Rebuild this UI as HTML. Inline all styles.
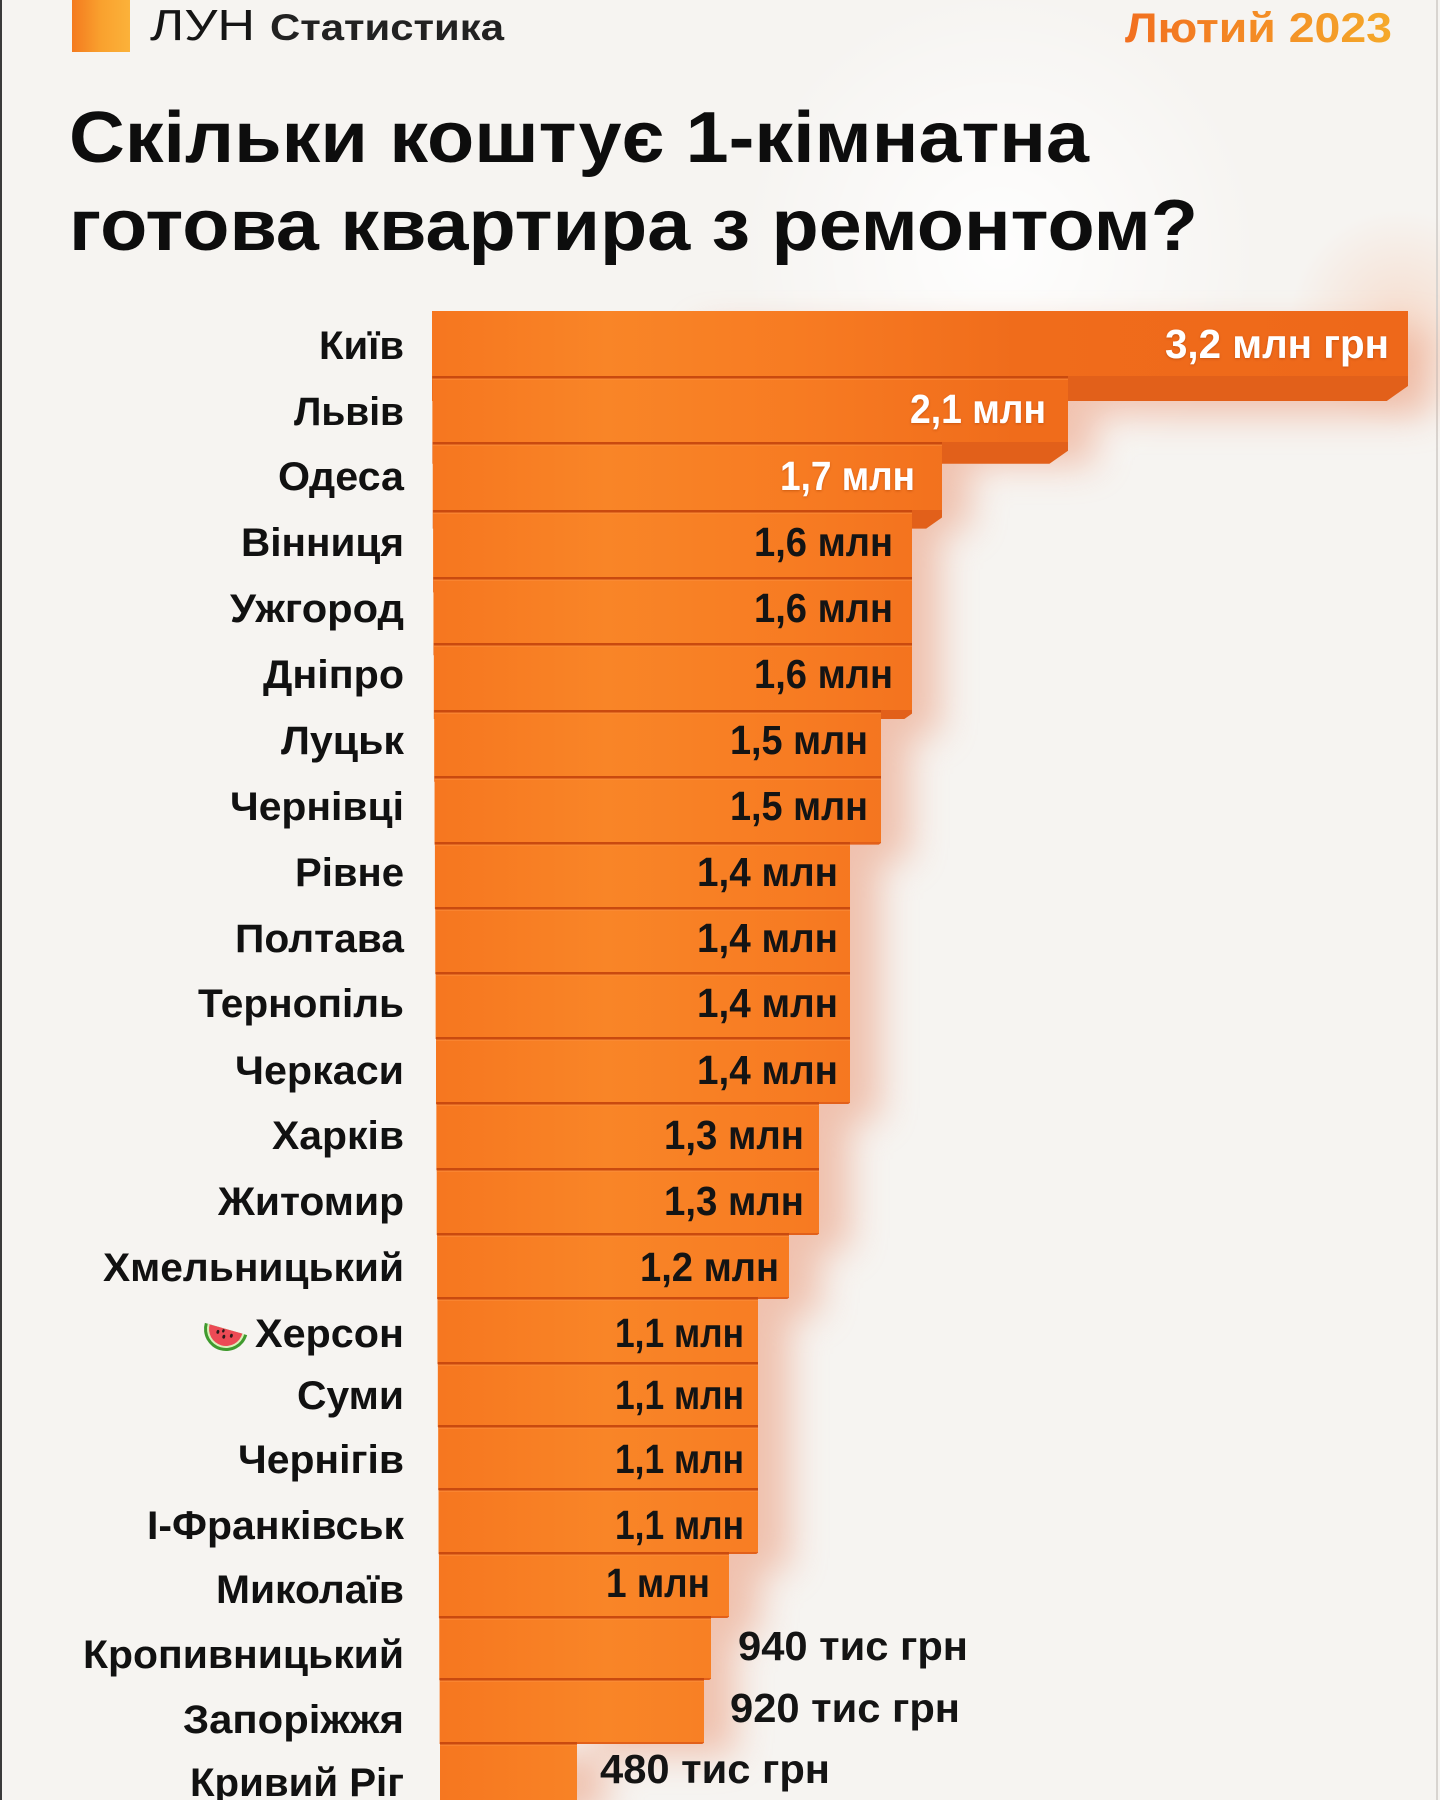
<!DOCTYPE html>
<html><head><meta charset="utf-8"><style>
html,body{margin:0;padding:0;background:#f6f4f1;}
svg{display:block;}
text{font-family:"Liberation Sans","DejaVu Sans",sans-serif;}
</style></head><body>
<svg width="1440" height="1800" viewBox="0 0 1440 1800" xmlns="http://www.w3.org/2000/svg">
<defs>
<linearGradient id="sq" x1="0" y1="0" x2="1" y2="0"><stop offset="0" stop-color="#f47a1f"/><stop offset="0.5" stop-color="#f9a12e"/><stop offset="1" stop-color="#fbb23a"/></linearGradient>
<linearGradient id="dt" x1="1125" y1="0" x2="1392" y2="0" gradientUnits="userSpaceOnUse"><stop offset="0" stop-color="#f26f1f"/><stop offset="1" stop-color="#f5a92a"/></linearGradient>
<linearGradient id="bar" x1="430" y1="0" x2="1410" y2="0" gradientUnits="userSpaceOnUse">
<stop offset="0" stop-color="#f6761f"/><stop offset="0.18" stop-color="#f98527"/><stop offset="0.38" stop-color="#f77b22"/><stop offset="0.6" stop-color="#f06c1b"/><stop offset="1" stop-color="#ee681a"/></linearGradient>
<radialGradient id="glow1" cx="1000" cy="250" r="260" gradientUnits="userSpaceOnUse"><stop offset="0" stop-color="#ffffff" stop-opacity="0.9"/><stop offset="1" stop-color="#ffffff" stop-opacity="0"/></radialGradient>
<radialGradient id="glow2" cx="1400" cy="320" r="110" gradientUnits="userSpaceOnUse"><stop offset="0" stop-color="#f7c3a6" stop-opacity="0.45"/><stop offset="1" stop-color="#f7c3a6" stop-opacity="0"/></radialGradient>
<filter id="blur" x="-20%" y="-20%" width="140%" height="140%"><feGaussianBlur stdDeviation="18"/></filter>
<filter id="ts" x="-10%" y="-30%" width="120%" height="160%"><feDropShadow dx="0" dy="1" stdDeviation="1.2" flood-color="#a33a00" flood-opacity="0.5"/></filter>
</defs>
<rect width="1440" height="1800" fill="#f6f4f1"/>
<rect width="1440" height="1800" fill="url(#glow1)"/>
<rect width="1440" height="1800" fill="url(#glow2)"/>
<rect x="0" y="0" width="2" height="1800" fill="#3a3a3a"/>
<rect x="1436" y="0" width="2" height="1800" fill="#d8d4d0"/>

<!-- header -->
<rect x="72" y="0" width="58" height="52" fill="url(#sq)"/>
<text x="150" y="40" font-size="44" font-weight="400" fill="#151515" textLength="105" lengthAdjust="spacingAndGlyphs">ЛУН</text>
<text x="270" y="40" font-size="37" font-weight="700" fill="#222" textLength="234" lengthAdjust="spacingAndGlyphs">Статистика</text>
<text x="1125" y="42" font-size="42" font-weight="700" fill="url(#dt)" textLength="267" lengthAdjust="spacingAndGlyphs">Лютий 2023</text>

<text x="69" y="162" font-size="72" font-weight="700" fill="#0d0d0d" textLength="1020" lengthAdjust="spacingAndGlyphs">Скільки коштує 1-кімнатна</text>
<text x="69" y="250" font-size="72" font-weight="700" fill="#0d0d0d" textLength="1129" lengthAdjust="spacingAndGlyphs">готова квартира з ремонтом?</text>

<g id="shadow" filter="url(#blur)" fill="#e98f6c" opacity="0.5">
<rect x="700" y="330" width="730" height="85"/>
<rect x="700" y="395" width="395" height="70"/>
<rect x="700" y="460" width="270" height="70"/>
<rect x="700" y="525" width="240" height="210"/>
<rect x="700" y="725" width="210" height="135"/>
<rect x="700" y="855" width="180" height="265"/>
<rect x="700" y="1115" width="150" height="135"/>
<rect x="700" y="1245" width="120" height="70"/>
<rect x="680" y="1310" width="110" height="260"/>
<rect x="680" y="1565" width="80" height="70"/>
<rect x="600" y="1630" width="135" height="125"/>
<rect x="500" y="1755" width="105" height="60"/>
</g>

<g id="bars"></g>

<!-- labels -->
<g font-size="40" font-weight="700" fill="#111">
<text x="319" y="359" textLength="85" lengthAdjust="spacingAndGlyphs">Київ</text>
<text x="294" y="425" textLength="110" lengthAdjust="spacingAndGlyphs">Львів</text>
<text x="278" y="490" textLength="126" lengthAdjust="spacingAndGlyphs">Одеса</text>
<text x="241" y="556" textLength="163" lengthAdjust="spacingAndGlyphs">Вінниця</text>
<text x="230" y="622" textLength="174" lengthAdjust="spacingAndGlyphs">Ужгород</text>
<text x="263" y="688" textLength="141" lengthAdjust="spacingAndGlyphs">Дніпро</text>
<text x="281" y="754" textLength="123" lengthAdjust="spacingAndGlyphs">Луцьк</text>
<text x="230" y="820" textLength="174" lengthAdjust="spacingAndGlyphs">Чернівці</text>
<text x="295" y="886" textLength="109" lengthAdjust="spacingAndGlyphs">Рівне</text>
<text x="235" y="952" textLength="169" lengthAdjust="spacingAndGlyphs">Полтава</text>
<text x="198" y="1017" textLength="206" lengthAdjust="spacingAndGlyphs">Тернопіль</text>
<text x="235" y="1084" textLength="169" lengthAdjust="spacingAndGlyphs">Черкаси</text>
<text x="272" y="1149" textLength="132" lengthAdjust="spacingAndGlyphs">Харків</text>
<text x="218" y="1215" textLength="186" lengthAdjust="spacingAndGlyphs">Житомир</text>
<text x="103" y="1281" textLength="301" lengthAdjust="spacingAndGlyphs">Хмельницький</text>
<text x="255" y="1347" textLength="149" lengthAdjust="spacingAndGlyphs">Херсон</text>
<text x="297" y="1409" textLength="107" lengthAdjust="spacingAndGlyphs">Суми</text>
<text x="238" y="1473" textLength="166" lengthAdjust="spacingAndGlyphs">Чернігів</text>
<text x="147" y="1539" textLength="257" lengthAdjust="spacingAndGlyphs">І-Франківськ</text>
<text x="216" y="1603" textLength="188" lengthAdjust="spacingAndGlyphs">Миколаїв</text>
<text x="83" y="1668" textLength="321" lengthAdjust="spacingAndGlyphs">Кропивницький</text>
<text x="183" y="1733" textLength="221" lengthAdjust="spacingAndGlyphs">Запоріжжя</text>
<text x="190" y="1796" textLength="214" lengthAdjust="spacingAndGlyphs">Кривий Ріг</text>
</g>

<!-- watermelon -->
<g transform="translate(226,1329) rotate(16)">
<path d="M-22,0 A22,22 0 0 0 22,0 Z" fill="#3f9a2e"/>
<path d="M-19,0 A19,19 0 0 0 19,0 Z" fill="#d9f0b8"/>
<path d="M-17,0 A17,17 0 0 0 17,0 Z" fill="#ec4a55"/>
<ellipse cx="-7" cy="5" rx="1.4" ry="2" fill="#2a1a1a"/>
<ellipse cx="0" cy="8" rx="1.4" ry="2" fill="#2a1a1a"/>
<ellipse cx="7" cy="5" rx="1.4" ry="2" fill="#2a1a1a"/>
<ellipse cx="-2" cy="2.5" rx="1.2" ry="1.8" fill="#2a1a1a"/>
</g>
</svg>
<script>
(function(){
var NS="http://www.w3.org/2000/svg";
var tops=[311,376,442,510,577,643,710,776,842,907,972,1037,1102,1168,1233,1297,1362,1425,1488,1552,1616,1678,1742,1810];
var rights=[1408,1068,942,912,912,912,881,881,850,850,850,850,819,819,789,758,758,758,758,729,711,704,577];
var vals=[
["3,2 млн грн",1165,224,358,1],["2,1 млн",910,136,423,1],["1,7 млн",780,135,490,1],
["1,6 млн",754,139,556,0],["1,6 млн",754,139,622,0],["1,6 млн",754,139,688,0],
["1,5 млн",730,138,754,0],["1,5 млн",730,138,820,0],
["1,4 млн",697,141,886,0],["1,4 млн",697,141,952,0],["1,4 млн",697,141,1017,0],["1,4 млн",697,141,1084,0],
["1,3 млн",664,140,1149,0],["1,3 млн",664,140,1215,0],["1,2 млн",640,139,1281,0],
["1,1 млн",615,129,1347,0],["1,1 млн",615,129,1409,0],["1,1 млн",615,129,1473,0],["1,1 млн",615,129,1539,0],
["1 млн",606,104,1597,0],["940 тис грн",738,230,1660,0],["920 тис грн",730,230,1722,0],["480 тис грн",600,230,1783,0]];
var g=document.getElementById("bars");
function el(n,a){var e=document.createElementNS(NS,n);for(var k in a)e.setAttribute(k,a[k]);return e;}
var n=rights.length;
for(var i=0;i<n;i++){
 var L=432+8*i/22, T=tops[i], B=tops[i+1], R=rights[i];
 g.appendChild(el("rect",{x:L,y:T,width:R-L,height:B-T,fill:"url(#bar)"}));
 if(i>0){g.appendChild(el("rect",{x:L,y:T,width:R-L,height:2.5,fill:"#c94a0f"}));
   g.appendChild(el("rect",{x:L,y:T+2.5,width:R-L,height:1.5,fill:"#fb9040",opacity:"0.5"}));}
 var t=Math.max(2,25-3.2*i);
 if(i<n-1){
  g.appendChild(el("polygon",{points:L+","+B+" "+R+","+B+" "+R+","+(B+t*0.4)+" "+(R-0.85*t)+","+(B+t)+" "+L+","+(B+t),fill:"#e2601a"}));
 }
}
var vg=el("g",{"font-size":"41","font-weight":"700"});
for(var j=0;j<vals.length;j++){
 var v=vals[j];
 var a={x:v[1],y:v[3],textLength:v[2],lengthAdjust:"spacingAndGlyphs",fill:v[4]?"#ffffff":"#141414"};
 if(v[4])a.filter="url(#ts)";
 var tx=el("text",a);tx.textContent=v[0];vg.appendChild(tx);
}
g.appendChild(vg);
})();
</script>
</body></html>
